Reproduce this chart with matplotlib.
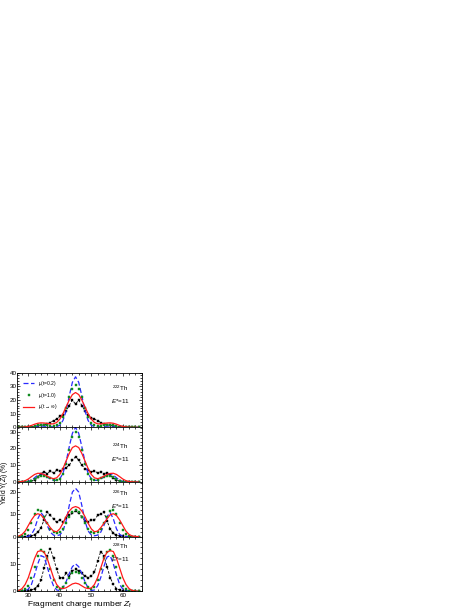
import numpy as np
import matplotlib
matplotlib.use("Agg")
from matplotlib import pyplot as plt
from matplotlib.ticker import MultipleLocator

plt.rcParams['font.family'] = ['Liberation Sans', 'DejaVu Sans']
plt.rcParams['mathtext.fontset'] = 'custom'
plt.rcParams['mathtext.rm'] = 'Liberation Sans'
plt.rcParams['mathtext.it'] = 'Liberation Sans:italic'

Z = np.arange(27, 66)

nuclei = ["222", "224", "226", "228"]

# yields in %, Z = 27..65
blue_222 = [0, 0, 0, 0.1, 0.3, 0.6, 0.9, 1.0, 0.9, 0.7, 0.5, 0.4, 0.6, 1.5, 5, 12, 23, 33, 37, 33, 23, 12, 5, 1.5, 0.6, 0.4, 0.5, 0.7, 0.9, 1.0, 0.9, 0.6, 0.3, 0.1, 0, 0, 0, 0, 0]
green_222 = [0, 0, 0, 0.2, 0.5, 1.0, 1.5, 2.0, 2.0, 1.7, 1.3, 1.2, 1.7, 3.5, 7.5, 14, 22, 28, 31, 28, 22, 14, 7.5, 3.5, 1.7, 1.2, 1.3, 1.7, 2.0, 2.0, 1.5, 1.0, 0.5, 0.2, 0, 0, 0, 0, 0]
red_222 = [0, 0.1, 0.3, 0.7, 1.4, 2.3, 3.0, 3.3, 3.2, 2.9, 2.5, 2.6, 3.6, 6, 10, 15, 20, 24, 25.5, 24, 20, 15, 10, 6, 3.6, 2.6, 2.5, 2.9, 3.2, 3.3, 3.0, 2.3, 1.4, 0.7, 0.3, 0.1, 0, 0, 0]
exp_222 = [0, 0, 0, 0.2, 0.4, 0.6, 1.0, 1.5, 2.0, 2.5, 3.5, 5, 6, 8, 9, 12, 16, 20, 17, 20, 16, 12, 9, 7, 6, 5, 3.5, 2.5, 2.0, 1.5, 1.0, 0.6, 0.4, 0.2, 0, 0, 0, 0, 0]

blue_224 = [0, 0, 0.1, 0.3, 1.0, 2.5, 4.2, 5.0, 4.5, 3.0, 1.7, 1.0, 1.0, 2.0, 5, 12, 21, 29, 32.5, 29, 21, 12, 5, 2.0, 1.0, 1.0, 1.7, 3.0, 4.5, 5.0, 4.2, 2.5, 1.0, 0.3, 0.1, 0, 0, 0, 0]
green_224 = [0, 0, 0.1, 0.3, 0.8, 1.8, 3.0, 3.8, 3.8, 3.2, 2.2, 1.3, 1.0, 2.0, 5, 11, 19, 26.5, 30, 26.5, 19, 11, 5, 2.0, 1.0, 1.3, 2.2, 3.2, 3.8, 3.8, 3.0, 1.8, 0.8, 0.3, 0.1, 0, 0, 0, 0]
red_224 = [0.1, 0.3, 0.8, 1.8, 3.2, 4.5, 5.2, 5.1, 4.5, 3.5, 2.5, 2.0, 2.5, 4.5, 8, 12.5, 17, 20.5, 21.5, 20.5, 17, 12.5, 8, 4.5, 2.5, 2.0, 2.5, 3.5, 4.5, 5.1, 5.2, 4.5, 3.2, 1.8, 0.8, 0.3, 0.1, 0, 0]
exp_224 = [0, 0, 0, 0.2, 0.5, 1.5, 3, 5, 6, 5, 6.5, 5.5, 7, 6.5, 8, 8.5, 10, 13, 15, 13, 10, 8, 7, 6, 6.5, 5.5, 6, 5, 5.5, 4, 2.5, 1.2, 0.5, 0.2, 0, 0, 0, 0, 0]

blue_226 = [0, 0, 0, 0.2, 1.0, 3.5, 8, 10.8, 9, 5, 2, 0.7, 0.4, 0.8, 2.5, 7, 14, 20, 21.7, 20, 14, 7, 2.5, 0.8, 0.4, 0.7, 2, 5, 9, 10.8, 8, 3.5, 1.0, 0.2, 0, 0, 0, 0, 0]
green_226 = [0, 0.3, 1, 3, 6, 10, 12, 11.5, 9, 6, 3.5, 2, 1.5, 2, 3.5, 6, 9, 11, 12, 11, 9, 6, 3.5, 2, 1.5, 2, 3.5, 6, 9, 11.5, 12, 10, 6, 3, 1, 0.3, 0, 0, 0]
red_226 = [0.3, 1, 2.5, 5, 7.5, 9.5, 10.3, 9.8, 8, 6, 4, 2.5, 2.2, 3.5, 6, 9, 11.5, 13, 13.5, 13, 11.5, 9, 6, 3.5, 2.2, 2.5, 4, 6, 8, 9.8, 10.3, 9.5, 7.5, 5, 2.5, 1, 0.3, 0.1, 0]
exp_226 = [0, 0, 0, 0.2, 0.4, 0.9, 2, 4, 7.5, 11, 9.5, 8, 6.5, 7.5, 6.5, 8.5, 9.5, 10.5, 11.5, 10.5, 9, 7, 6.5, 7.5, 7.5, 9.5, 10, 11, 7, 3.5, 1.5, 0.6, 0.3, 0.1, 0, 0, 0, 0, 0]

blue_228 = [0, 0, 0.2, 0.8, 2.5, 6, 10, 13, 12.5, 9, 5, 2, 0.5, 0.3, 1.2, 3.5, 6.5, 9, 10, 9, 6.5, 3.5, 1.2, 0.3, 0.5, 2, 5, 9, 12.5, 13, 10, 6, 2.5, 0.8, 0.2, 0, 0, 0, 0]
green_228 = [0, 0.2, 0.7, 2, 5, 9, 13, 15, 14.5, 12, 8, 4, 1.5, 1, 1.5, 3, 5, 6.5, 7, 6.5, 5, 3, 1.5, 1, 1.5, 4, 8, 12, 14.5, 15, 13, 9, 5, 2, 0.7, 0.2, 0, 0, 0]
red_228 = [0.3, 1, 2.5, 5, 8.5, 12, 14.5, 14.8, 14.3, 12, 8.5, 5, 2.5, 1.2, 1.0, 1.3, 2, 2.7, 3, 2.7, 2, 1.3, 1.0, 1.2, 2.5, 5, 8.5, 12, 14.3, 14.8, 14.5, 12, 8.5, 5, 2.5, 1, 0.3, 0.1, 0]
exp_228 = [0, 0, 0.1, 0.3, 0.5, 1, 2, 4, 8.5, 13, 15.5, 12, 8, 5, 5, 6.5, 5.5, 7.5, 8, 7.5, 6.5, 5.5, 5, 5.5, 7, 11, 14.5, 13, 9, 5, 2.5, 1, 0.5, 0.2, 0, 0, 0, 0, 0]

blue = [blue_222, blue_224, blue_226, blue_228]
green = [green_222, green_224, green_226, green_228]
red = [red_222, red_224, red_226, red_228]
exp = [exp_222, exp_224, exp_226, exp_228]

ylims = [(0, 40), (0, 32.5), (0, 24.5), (0, 19.9)]
label_y = [(0.66, 0.44), (0.60, 0.38), (0.74, 0.52), (0.78, 0.56)]

fig = plt.figure(figsize=(4.71, 6.09), dpi=100)

left, right = 0.0367, 0.3008
bottom, top = 0.029, 0.388
h = (top - bottom) / 4

for i in range(4):
    ax = fig.add_axes([left, top - (i + 1) * h, right - left, h])
    ax.plot(Z, exp[i], color='black', ls=(0, (3, 2)), lw=0.6,
            marker='s', ms=1.9, mec='black', mfc='black', mew=0.3)
    ax.plot(Z, blue[i], color='#2a2aff', ls=(0, (4, 2)), lw=0.9, label=r'$\mu$(t=0.2)')
    ax.plot(Z, green[i], ls='none', marker='s', ms=2.0, mew=0.3, color='#0f8a1f',
            label=r'$\mu$(t=1.0)')
    ax.plot(Z, red[i], color='#ff1a1a', lw=0.9, label=r'$\mu$(t$\to\infty$)')

    ax.set_xlim(26.5, 66)
    ax.set_ylim(*ylims[i])
    ax.xaxis.set_major_locator(MultipleLocator(10))
    ax.xaxis.set_minor_locator(MultipleLocator(2))
    ax.yaxis.set_major_locator(MultipleLocator(10))
    ax.yaxis.set_minor_locator(MultipleLocator(2))
    ax.tick_params(which='both', direction='in', top=True, right=True,
                   labelsize=4.5, width=0.5)
    ax.tick_params(axis='y', pad=0.6)
    ax.tick_params(axis='x', pad=1.5)
    ax.tick_params(which='major', length=2.5)
    ax.tick_params(which='minor', length=1.3)
    for s in ax.spines.values():
        s.set_linewidth(0.6)
    if i < 3:
        ax.set_xticklabels([])

    ax.text(0.83, label_y[i][0], r'$^{%s}$Th' % nuclei[i], transform=ax.transAxes,
            fontsize=4.5, ha='center')
    ax.text(0.83, label_y[i][1], r'$E$*=11', transform=ax.transAxes,
            fontsize=4.5, ha='center')

    if i == 0:
        ax.legend(loc='upper left', fontsize=3.6, frameon=False, handlelength=2.2,
                  borderaxespad=0.3, labelspacing=0.55, handletextpad=0.8,
                  bbox_to_anchor=(0.02, 0.95))
    if i == 3:
        ax.set_xlabel(r'Fragment charge number $Z_{\rm f}$', fontsize=6, labelpad=0.3)

fig.text(0.010, 0.208, r'Yield Y($Z_{\rm f}$) (%)', rotation=90, fontsize=4.8,
         ha='center', va='center')

fig.savefig('out.png', dpi=100)
